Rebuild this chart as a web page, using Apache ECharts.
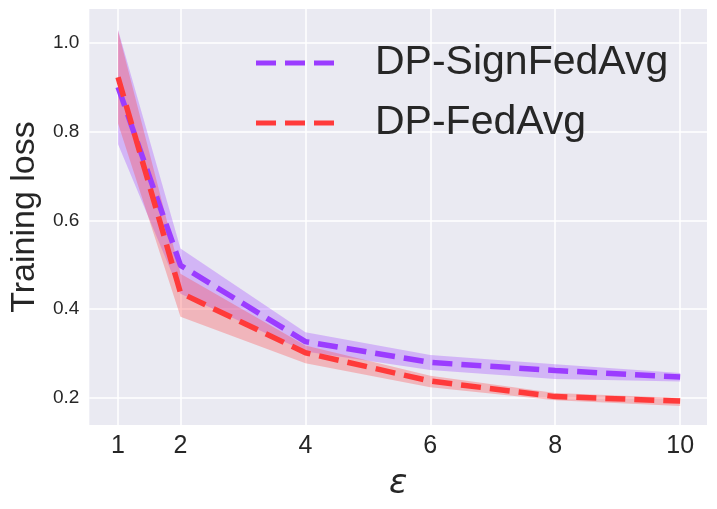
<!DOCTYPE html>
<html>
<head>
<meta charset="utf-8">
<script src="https://cdn.jsdelivr.net/npm/echarts@6/dist/echarts.min.js"></script>
<style>
  html, body { margin: 0; padding: 0; background: #fff; }
  #viz { width: 717px; height: 509px; }
</style>
</head>
<body>
<div id="viz"></div>
<script>
// privacy budget values on the x axis
var epsValues = [1, 2, 4, 6, 8, 10];
var yTicks = [0.2, 0.4, 0.6, 0.8, 1.0];

// DP-SignFedAvg: mean and shaded band
var signMean = [0.901, 0.499, 0.327, 0.280, 0.262, 0.247];
var signLow  = [0.772, 0.435, 0.305, 0.263, 0.243, 0.237];
var signHigh = [1.030, 0.537, 0.348, 0.297, 0.276, 0.256];

// DP-FedAvg: mean and shaded band
var fedMean = [0.923, 0.437, 0.302, 0.238, 0.203, 0.193];
var fedLow  = [0.819, 0.383, 0.278, 0.224, 0.195, 0.182];
var fedHigh = [1.028, 0.480, 0.318, 0.250, 0.211, 0.200];

var purple = '#9b3cff';
var red = '#ff3a3a';
// three dashes for the legend key
var dashIcon = 'path://M0,0H20V5H0Z M29,0H49V5H29Z M58,0H78V5H58Z';

function pairs(xs, ys) {
  var out = [];
  for (var i = 0; i < xs.length; i++) out.push([xs[i], ys[i]]);
  return out;
}

/* shaded band: one polygon, upper edge forward then lower edge back */
function bandSeries(name, lo, hi, color) {
  return {
    name: name,
    type: 'custom',
    silent: true,
    z: 1,
    data: [0],
    renderItem: function (params, api) {
      var pts = [];
      for (var i = 0; i < epsValues.length; i++) pts.push(api.coord([epsValues[i], hi[i]]));
      for (var j = epsValues.length - 1; j >= 0; j--) pts.push(api.coord([epsValues[j], lo[j]]));
      return {
        type: 'polygon',
        shape: { points: pts },
        style: { fill: color, opacity: 0.3 }
      };
    }
  };
}

var myChart = echarts.init(document.getElementById('viz'));
var series = [
  bandSeries('sign-band', signLow, signHigh, purple),
  bandSeries('fed-band', fedLow, fedHigh, red)
];

series.push({
  name: 'DP-SignFedAvg',
  type: 'line',
  data: pairs(epsValues, signMean),
  symbol: 'none',
  lineStyle: { color: purple, width: 5.5, type: [20, 9] },
  itemStyle: { color: purple },
  z: 3
});
series.push({
  name: 'DP-FedAvg',
  type: 'line',
  data: pairs(epsValues, fedMean),
  symbol: 'none',
  lineStyle: { color: red, width: 5.5, type: [20, 9] },
  itemStyle: { color: red },
  z: 4
});

var option = {
  animation: false,
  backgroundColor: '#ffffff',
  grid: {
    left: 87, right: 10, top: 9, bottom: 84,
    show: true, backgroundColor: '#eaeaf2', borderWidth: 0
  },
  legend: {
    data: [
      { name: 'DP-SignFedAvg', icon: dashIcon },
      { name: 'DP-FedAvg', icon: dashIcon }
    ],
    orient: 'vertical',
    left: 256,
    top: 40,
    padding: 0,
    itemWidth: 80,
    itemHeight: 5,
    itemGap: 14,
    textStyle: {
      fontFamily: 'Liberation Sans',
      fontSize: 41,
      color: '#262626',
      lineHeight: 46,
      padding: [0, 0, 0, 35]
    }
  },
  xAxis: {
    type: 'value',
    min: 0.54,
    max: 10.43,
    name: 'ε',
    nameLocation: 'middle',
    nameGap: 42,
    nameTextStyle: {
      fontFamily: 'DejaVu Sans',
      fontStyle: 'italic',
      fontSize: 34,
      color: '#262626'
    },
    axisLine: { show: false },
    axisTick: { show: false, customValues: epsValues },
    axisLabel: {
      customValues: epsValues,
      fontFamily: 'Liberation Sans',
      fontSize: 25,
      color: '#262626',
      margin: 9
    },
    splitLine: { show: true, lineStyle: { color: '#ffffff', width: 1.5 } }
  },
  yAxis: {
    type: 'value',
    min: 0.139,
    max: 1.077,
    name: 'Training loss',
    nameLocation: 'middle',
    nameRotate: 90,
    nameGap: 46,
    nameTextStyle: {
      fontFamily: 'Liberation Sans',
      fontSize: 34,
      color: '#262626'
    },
    axisLine: { show: false },
    axisTick: { show: false, customValues: yTicks },
    axisLabel: {
      customValues: yTicks,
      formatter: function (v) { return v.toFixed(1); },
      fontFamily: 'Liberation Sans',
      fontSize: 19,
      color: '#262626',
      margin: 10
    },
    splitLine: { show: true, lineStyle: { color: '#ffffff', width: 1.5 } }
  },
  series: series
};

myChart.setOption(option);
</script>
</body>
</html>
